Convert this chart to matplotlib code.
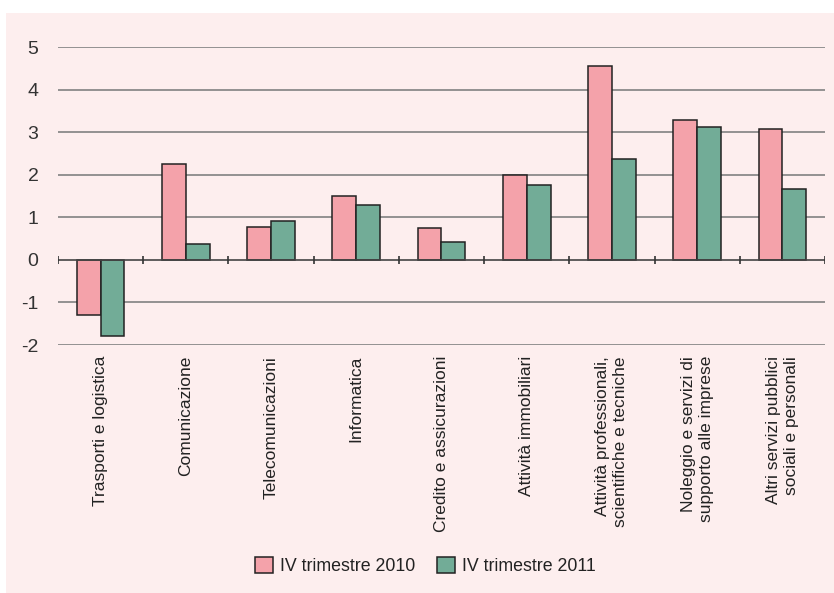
import matplotlib.pyplot as plt
import numpy as np
from matplotlib.patches import Rectangle

categorie = ['Trasporti e logistica', 'Comunicazione', 'Telecomunicazioni',
             'Informatica', 'Credito e assicurazioni', 'Attività immobiliari',
             'Attività professionali,\nscientifiche e tecniche',
             'Noleggio e servizi di\nsupporto alle imprese',
             'Altri servizi pubblici\nsociali e personali']
iv_2010 = [-1.3, 2.25, 0.78, 1.5, 0.76, 2.0, 4.55, 3.29, 3.08]
iv_2011 = [-1.8, 0.37, 0.91, 1.29, 0.42, 1.76, 2.38, 3.12, 1.67]
yticks = [-2, -1, 0, 1, 2, 3, 4, 5]

sfondo = '#fdeeee'
rosa = '#f4a2aa'
verde = '#72ac97'

plt.rcParams['font.family'] = ['Liberation Sans', 'DejaVu Sans']

fig = plt.figure(figsize=(8.34, 5.93), dpi=100)
fig.patch.set_facecolor('white')
fig.patches.append(Rectangle((6 / 834, 0), 1, 1 - 13 / 593, transform=fig.transFigure,
                             facecolor=sfondo, edgecolor='none', zorder=-10))

ax = fig.add_axes([58 / 834, 1 - 345 / 593, (825 - 58) / 834, (345 - 47) / 593])
ax.set_facecolor('none')

x = np.arange(len(categorie))
w = 0.28
ax.bar(x - w / 2, iv_2010, w, color=rosa, edgecolor='#222222', linewidth=1.1,
       label='IV trimestre 2010', zorder=3)
ax.bar(x + w / 2, iv_2011, w, color=verde, edgecolor='#222222', linewidth=1.1,
       label='IV trimestre 2011', zorder=3)

ax.set_xlim(-0.5, len(categorie) - 0.5)
ax.set_ylim(-2, 5)
ax.set_yticks(yticks)
ax.set_yticklabels([str(v) for v in yticks], fontsize=14, color='#333333')
ax.tick_params(axis='y', length=0, pad=14)
for v in yticks:
    if v != 0:
        ax.axhline(v, color='#8a8a8a', linewidth=1.3, zorder=1)

# asse orizzontale a zero con tacche tra le categorie
ax.axhline(0, color='#444444', linewidth=1.2, zorder=4)
confini = np.arange(len(categorie) + 1) - 0.5
ax.vlines(confini, -0.1, 0.1, color='#333333', linewidth=1.2, zorder=4)

ax.set_xticks(x)
ax.set_xticklabels(categorie, rotation=90, fontsize=12.5, va='top', ha='center',
                   multialignment='right', color='#222222', linespacing=1.25)
ax.tick_params(axis='x', length=0, pad=8)
for s in ax.spines.values():
    s.set_visible(False)

leg = fig.legend(loc='center', bbox_to_anchor=(0.51, 1 - 566 / 593), ncol=2,
                 frameon=False, fontsize=12.8, handlelength=1.0, handleheight=1.0,
                 handletextpad=0.4, columnspacing=1.2)
for t in leg.get_texts():
    t.set_color('#222222')

fig.savefig('out.png', dpi=100, facecolor=fig.get_facecolor())
